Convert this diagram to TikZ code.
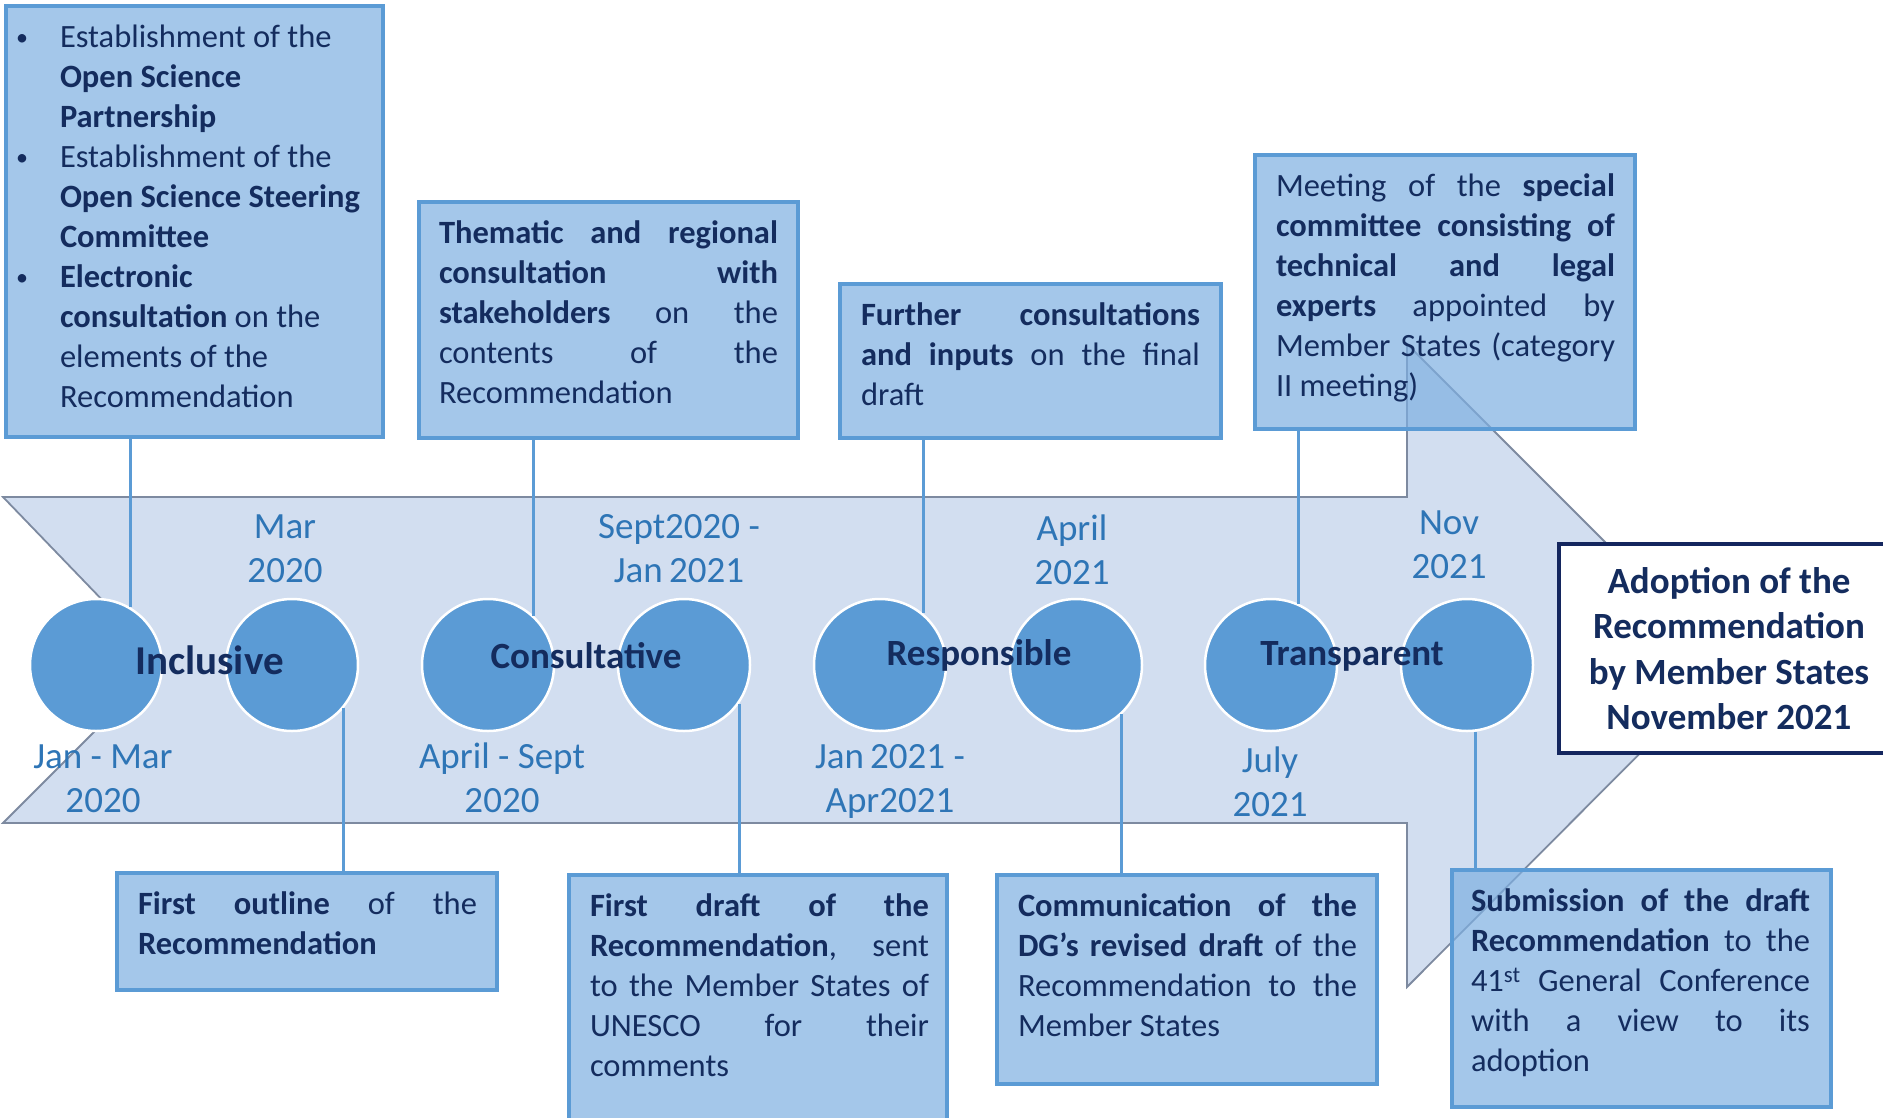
\documentclass[tikz,border=0pt]{standalone}
\usepackage{fontspec}
\setmainfont{Carlito}
\definecolor{arrowfill}{RGB}{210,222,240}
\definecolor{arrowline}{RGB}{125,138,160}
\definecolor{circfill}{RGB}{91,155,213}
\definecolor{boxfill}{RGB}{125,175,225}
\definecolor{boxline}{RGB}{91,155,213}
\definecolor{navy}{RGB}{20,44,94}
\definecolor{datec}{RGB}{46,117,182}
\definecolor{adoptline}{RGB}{20,38,94}
\newcommand\boxfont{\fontsize{32.5pt}{40pt}\selectfont\color{navy}}
\newcommand\datefont{\fontsize{37pt}{44.5pt}\selectfont\color{datec}}
\newcommand\jl[1]{\makebox[\linewidth][s]{\strut #1}\\}
\newcommand\bul{\makebox[44pt][l]{\raisebox{2pt}{\fontsize{24pt}{24pt}\selectfont\textbullet}}}
\newcommand\ind{\hspace*{44pt}}
\newcommand\boxbody[5][339pt]{% [minipage width], width, height, left pad, content
  \parbox[c][#3][t]{#2}{\vspace*{13.5pt}\hspace*{#4}\begin{minipage}[t]{#1}#5\end{minipage}}}
\begin{document}
\begin{tikzpicture}[x=1pt,y=-1pt,
  arrowshape/.style={fill=arrowfill,draw=arrowline,line width=1.8pt,line join=miter},
  circ/.style={circle,minimum size=132pt,inner sep=0pt,fill=circfill,draw=white,line width=2.5pt},
  tbox/.style={draw=boxline,line width=4pt,fill=boxfill,fill opacity=0.7,draw opacity=1,text opacity=1,inner sep=0pt,anchor=north west,font=\boxfont},
  conn/.style={draw=boxline,line width=3pt},
  clabel/.style={anchor=base,inner sep=0pt,text=navy,font=\fontsize{37pt}{44pt}\selectfont\bfseries},
  datelab/.style={anchor=north,inner sep=0pt,align=center,font=\datefont},
  adopt/.style={draw=adoptline,line width=4.5pt,fill=white,minimum width=340pt,minimum height=209pt,inner sep=0pt,align=center,text=navy,font=\fontsize{37pt}{45.5pt}\selectfont\bfseries}
]
\useasboundingbox (0,0) rectangle (1883,1117);
\clip (0,0) rectangle (1883,1117);
% big arrow
\draw[arrowshape] (3,497) -- (1407,497) -- (1407,344) -- (1728,665) -- (1407,987) -- (1407,823) -- (3,823) -- (163,663) -- cycle;
% circles
\node[circ] (c1) at (96,665) {};
\node[circ] (c2) at (292,665) {};
\node[circ] (c3) at (488,665) {};
\node[circ] (c4) at (684,665) {};
\node[circ] (c5) at (880,665) {};
\node[circ] (c6) at (1076,665) {};
\node[circ] (c7) at (1271,665) {};
\node[circ] (c8) at (1467,665) {};
% circle labels
\node[clabel,font=\fontsize{41pt}{48pt}\selectfont\bfseries] (tInc) at (209.5,674) {Inclusive};
\node[clabel] (tCon) at (586,668) {Consultative};
\node[clabel] (tRes) at (979,665) {Responsible};
\node[clabel] (tTra) at (1352,665) {Transparent};
% dates
\node[datelab] (d1) at (103,736.85) {\strut Jan - Mar\\2020};
\node[datelab] (d2) at (285,506.85) {\strut Mar\\2020};
\node[datelab] (d3) at (502,736.85) {\strut April - Sept\\2020};
\node[datelab] (d4) at (679,506.85) {\strut Sept2020 -\\Jan\,2021};
\node[datelab] (d5) at (890,736.85) {\strut Jan\,2021 -\\Apr2021};
\node[datelab] (d6) at (1072,508.85) {\strut April\\2021};
\node[datelab] (d7) at (1270,740.85) {\strut July\\2021};
\node[datelab] (d8) at (1449,502.85) {\strut Nov\\2021};
% boxes
\node[tbox] (bA) at (4,4) {\boxbody[360pt]{377pt}{431pt}{10pt}{%
\strut\bul Establishment of the\\
\ind\textbf{Open Science}\\
\ind\textbf{Partnership}\\
\bul Establishment of the\\
\ind\textbf{Open Science Steering}\\
\ind\textbf{Committee}\\
\bul\textbf{Electronic}\\
\ind\textbf{consultation} on the\\
\ind elements of the\\
\ind Recommendation}};
\node[tbox] (bB) at (417,200) {\boxbody{379pt}{236pt}{20pt}{%
\jl{\textbf{Thematic and regional}}
\jl{\textbf{consultation with}}
\jl{\textbf{stakeholders} on the}
\jl{contents of the}
\strut Recommendation}};
\node[tbox] (bC) at (838,282) {\boxbody{381pt}{154pt}{21pt}{%
\jl{\textbf{Further consultations}}
\jl{\textbf{and inputs} on the final}
\strut draft}};
\node[tbox] (bD) at (1253,153) {\boxbody{380pt}{274pt}{21pt}{%
\jl{Meeting of the \textbf{special}}
\jl{\textbf{committee consisting of}}
\jl{\textbf{technical and legal}}
\jl{\textbf{experts} appointed by}
\jl{Member States (category}
\strut II meeting)}};
\node[tbox] (bE) at (115,871) {\boxbody{380pt}{117pt}{21pt}{%
\jl{\textbf{First outline} of the}
\strut\textbf{Recommendation}}};
\node[tbox] (bF) at (567,873) {\boxbody{378pt}{275pt}{21pt}{%
\jl{\textbf{First draft of the}}
\jl{\textbf{Recommendation}, sent}
\jl{to the Member States of}
\jl{UNESCO for their}
\strut comments}};
\node[tbox] (bG) at (995,873) {\boxbody{380pt}{209pt}{21pt}{%
\jl{\textbf{Communication of the}}
\jl{\textbf{DG’s revised draft} of the}
\jl{Recommendation to the}
\strut Member States}};
\node[tbox] (bH) at (1450,868) {\boxbody{379pt}{237pt}{19pt}{%
\jl{\textbf{Submission of the draft}}
\jl{\textbf{Recommendation} to the}
\jl{41\textsuperscript{st} General Conference}
\jl{with a view to its}
\strut adoption}};
% adoption box
\node[adopt] (ad) at (1729,648.5) {Adoption of the\\Recommendation\\by Member States\\November 2021};
% connectors
\draw[conn] (c1.59) -- (c1.59 |- bA.south);
\draw[conn] (c3.47) -- (c3.47 |- bB.south);
\draw[conn] (c5.50.5) -- (c5.50.5 |- bC.south);
\draw[conn] (c7.66.8) -- (c7.66.8 |- bD.south);
\draw[conn] (c2.-40.7) -- (c2.-40.7 |- bE.north);
\draw[conn] (c4.-35) -- (c4.-35 |- bF.north);
\draw[conn] (c6.-47) -- (c6.-47 |- bG.north);
\draw[conn] (c8.-83) -- (c8.-83 |- bH.north);
\end{tikzpicture}
\end{document}
